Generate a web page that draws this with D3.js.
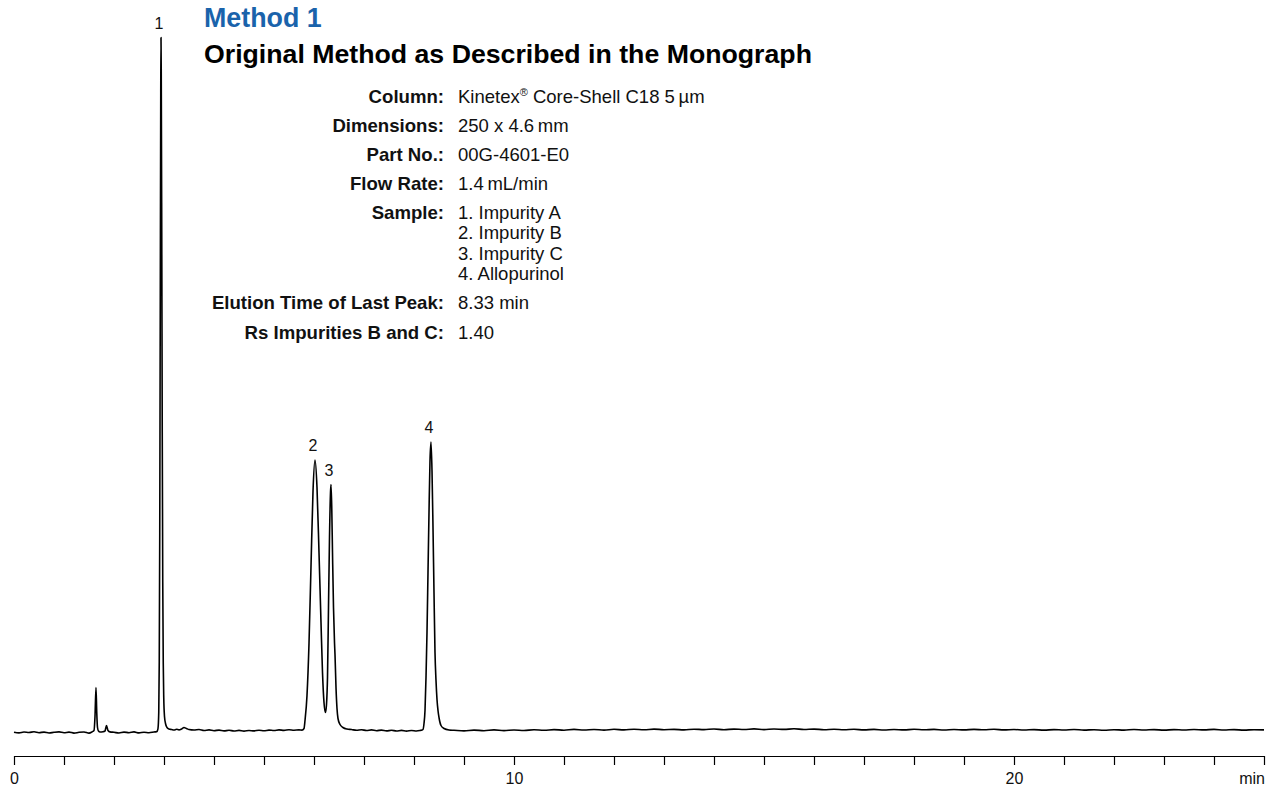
<!DOCTYPE html>
<html>
<head>
<meta charset="utf-8">
<script src="https://cdn.jsdelivr.net/npm/d3@7"></script>
<style>
  body { margin: 0; background: #fff; }
  svg { display: block; }
  text { font-family: "Liberation Sans", Arial, Helvetica, sans-serif; }
</style>
</head>
<body>
<svg id="chart" width="1270" height="786"></svg>
<script>
// ---------- DATA ----------
const titleMethod = "Method 1";
const titleMain = "Original Method as Described in the Monograph";

const infoLabels = ["Column:", "Dimensions:", "Part No.:", "Flow Rate:", "Sample:", "Elution Time of Last Peak:", "Rs Impurities B and C:"];
const infoValues = [
  ["Kinetex\u00AE Core-Shell C18 5\u2009\u00B5m"],
  ["250 x 4.6\u2009mm"],
  ["00G-4601-E0"],
  ["1.4\u2009mL/min"],
  ["1. Impurity A", "2. Impurity B", "3. Impurity C", "4. Allopurinol"],
  ["8.33 min"],
  ["1.40"]
];

const peakLabels = ["1", "2", "3", "4"];
const peakTimes = [2.94, 6.02, 6.34, 8.34];
const peakHeights = [695, 272.5, 248, 290.5];

const axisTicks = [0,1,2,3,4,5,6,7,8,9,10,11,12,13,14,15,16,17,18,19,20,21,22,23,24,25];
const axisTickLabels = {0: "0", 10: "10", 20: "20"};
const axisUnit = "min";

// detector trace (time in min, signal in arbitrary units)
const traceStart = [[0,0.3],[0.1,-0.4],[0.2,0.5],[0.3,0],[0.4,0.7],[0.5,-0.2],[0.6,0.4],[0.7,-0.5],[0.8,0.2],[0.9,0.6],[1.0,-0.3],[1.1,0.4],[1.2,-0.6],[1.3,0.2],[1.4,0.5],[1.5,-0.6],[1.56,0.6],[1.6,2],[1.62,16],[1.64,45],[1.655,20],[1.67,5],[1.69,1.5],[1.72,0.5],[1.78,0.8],[1.82,1.5],[1.85,7],[1.88,2],[1.92,0.6],[2.0,0.2],[2.1,-0.5],[2.2,0.4],[2.3,-0.2],[2.4,0.6],[2.5,-0.4],[2.6,0.3],[2.7,-0.2],[2.8,0.5],[2.85,0.8]];
const peak1Trace = [[2.865,1.5],[2.88,4],[2.895,20],[2.905,70],[2.915,200],[2.925,420],[2.935,640],[2.94,695],[2.945,660],[2.955,500],[2.965,300],[2.975,150],[2.985,70],[2.995,35],[3.01,16],[3.03,9],[3.06,5],[3.1,3.5]];
const midTrace = [[3.15,3],[3.2,2.5],[3.25,3.2],[3.3,2.6],[3.35,3.5],[3.4,5],[3.45,4],[3.5,3],[3.6,2.5],[3.7,3],[3.8,2],[3.9,2.6],[4.0,1.8],[4.1,2.4],[4.2,1.6],[4.3,2.2],[4.4,1.5],[4.5,2.1],[4.6,1.4],[4.7,2],[4.8,1.6],[4.9,2.3],[5.0,1.7],[5.1,2.4],[5.2,2],[5.3,2.6],[5.4,2.1],[5.5,2.8],[5.6,2.3],[5.7,2.6],[5.76,2.4]];
const peak23Trace = [[5.8,4],[5.82,12],[5.86,37],[5.90,89],[5.94,166],[5.98,241],[6.02,272.5],[6.06,245],[6.10,180],[6.14,110],[6.17,60],[6.20,30],[6.23,20],[6.25,28],[6.27,55],[6.29,125],[6.31,195],[6.33,240],[6.34,248],[6.355,225],[6.37,180],[6.39,125],[6.41,90],[6.42,78],[6.44,45],[6.46,24],[6.48,14],[6.52,8],[6.58,5],[6.66,3.5],[6.75,3]];
const midTrace2 = [[6.85,2.2],[6.95,2.8],[7.05,2.0],[7.15,2.6],[7.25,1.8],[7.35,2.4],[7.45,1.6],[7.55,2.2],[7.65,1.5],[7.75,2.1],[7.85,1.4],[7.95,2.0],[8.05,1.5],[8.12,2]];
const peak4Trace = [[8.16,2.5],[8.18,3],[8.20,9],[8.22,22],[8.24,55],[8.26,100],[8.28,160],[8.30,220],[8.32,272],[8.34,290.5],[8.36,262],[8.38,205],[8.40,140],[8.42,80],[8.44,52],[8.46,33],[8.48,22],[8.50,15],[8.54,7],[8.60,4],[8.70,2.5]];
const tailTrace = [[8.8,2.2],[9.0,1.6],[9.2,2.4],[9.4,1.8],[9.6,2.6],[9.8,1.9],[10.0,2.5],[10.2,2.0],[10.4,2.8],[10.6,2.2],[10.8,2.9],[11.0,2.3],[11.2,3.1],[11.4,2.5],[11.6,3.0],[11.8,2.4],[12.0,3.2],[12.2,2.6],[12.4,3.3],[12.6,2.7],[12.8,3.4],[13.0,2.8],[13.2,3.1],[13.4,2.6],[13.6,3.3],[13.8,2.9],[14.0,3.5],[14.2,2.8],[14.4,3.4],[14.6,3.0],[14.8,3.6],[15.0,2.9],[15.2,3.5],[15.4,3.1],[15.6,3.7],[15.8,3.0],[16.0,3.4],[16.2,2.8],[16.4,3.3],[16.6,2.7],[16.8,3.2],[17.0,2.6],[17.2,3.1],[17.4,2.5],[17.6,3.0],[17.8,2.6],[18.0,3.2],[18.2,2.7],[18.4,3.1],[18.6,2.5],[18.8,3.0],[19.0,2.6],[19.2,3.1],[19.4,2.7],[19.6,3.2],[19.8,2.6],[20.0,3.0],[20.2,2.5],[20.4,2.9],[20.6,2.4],[20.8,2.9],[21.0,2.5],[21.2,3.0],[21.4,2.4],[21.6,2.8],[21.8,2.3],[22.0,2.8],[22.2,2.4],[22.4,3.0],[22.6,2.5],[22.8,2.9],[23.0,2.4],[23.2,2.9],[23.4,2.5],[23.6,3.0],[23.8,2.6],[24.0,3.1],[24.2,2.5],[24.4,2.9],[24.6,2.4],[24.8,2.8],[25.0,2.6]];

// ---------- DRAW ----------
const svg = d3.select("#chart");
const x = d3.scaleLinear().domain([0, 25]).range([14, 1264]);
const y = d3.scaleLinear().domain([0, 700]).range([732.5, 32.5]);

const trace = [].concat(traceStart, peak1Trace, midTrace, peak23Trace, midTrace2, peak4Trace, tailTrace);

svg.append("path")
  .datum(trace)
  .attr("fill", "none")
  .attr("stroke", "#000")
  .attr("stroke-width", 1.6)
  .attr("stroke-linejoin", "round")
  .attr("d", d3.line().x(d => x(d[0])).y(d => y(d[1])).curve(d3.curveMonotoneX));

// peak labels
svg.selectAll("text.peak")
  .data(peakLabels)
  .join("text")
  .attr("class", "peak")
  .attr("x", (d, i) => x(peakTimes[i]) - 2)
  .attr("y", (d, i) => y(peakHeights[i]) - 9)
  .attr("text-anchor", "middle")
  .attr("font-size", 16)
  .attr("fill", "#111")
  .text(d => d);

// axis
const axis = d3.axisBottom(x)
  .tickValues(axisTicks)
  .tickSize(9)
  .tickSizeOuter(0)
  .tickPadding(8)
  .tickFormat(d => axisTickLabels[d] || "");
const gAxis = svg.append("g").attr("transform", "translate(0,756)").call(axis);
gAxis.select(".domain").attr("stroke", "#000").attr("stroke-width", 1.2);
gAxis.selectAll(".tick line").attr("stroke", "#000").attr("stroke-width", 1.2);
gAxis.selectAll(".tick text")
  .attr("font-family", "'Liberation Sans', Arial, sans-serif")
  .attr("font-size", 16)
  .attr("fill", "#111");

svg.append("text")
  .attr("x", x(25) + 1).attr("y", 784)
  .attr("text-anchor", "end")
  .attr("font-size", 16).attr("fill", "#111")
  .text(axisUnit);

// titles
svg.append("text")
  .attr("x", 204).attr("y", 27)
  .attr("font-size", 26.8).attr("font-weight", "bold")
  .attr("fill", "#1a63ab")
  .text(titleMethod);
svg.append("text")
  .attr("x", 204).attr("y", 63)
  .attr("font-size", 26.7).attr("font-weight", "bold")
  .attr("fill", "#000")
  .text(titleMain);

// info block
const rowY = [103, 132, 161, 189.5, 218.5, 309, 339];
const lineGap = 20.6;
infoLabels.forEach((lab, i) => {
  svg.append("text")
    .attr("x", 444).attr("y", rowY[i])
    .attr("text-anchor", "end")
    .attr("font-size", 18.6).attr("font-weight", "bold")
    .attr("fill", "#111")
    .text(lab);
  infoValues[i].forEach((v, j) => {
    const t = svg.append("text")
      .attr("x", 458).attr("y", rowY[i] + j * lineGap)
      .attr("font-size", 18.5)
      .attr("fill", "#111");
    if (v.indexOf("\u00AE") >= 0) {
      const parts = v.split("\u00AE");
      t.append("tspan").text(parts[0]);
      t.append("tspan").attr("font-size", 11).attr("dy", -7).text("\u00AE");
      t.append("tspan").attr("dy", 7).text(parts[1]);
    } else {
      t.text(v);
    }
  });
});
</script>
</body>
</html>
